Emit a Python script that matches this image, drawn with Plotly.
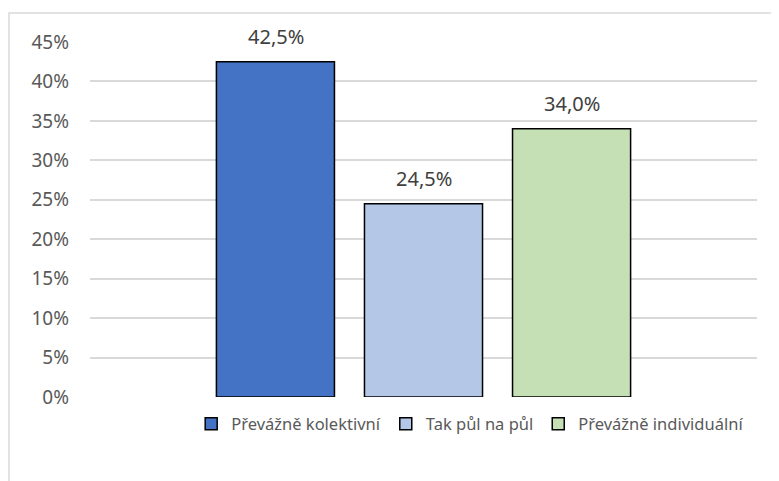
import plotly.graph_objects as go

categories = ["Q"]
series_names = ["Převážně kolektivní", "Tak půl na půl", "Převážně individuální"]
series_values = [42.5, 24.5, 34.0]
colors = ["#4472C4", "#B4C7E7", "#C5E0B4"]
tick_vals = [0, 5, 10, 15, 20, 25, 30, 35, 40, 45]
tick_labels = ["0%", "5%", "10%", "15%", "20%", "25%", "30%", "35%", "40%", "45%"]
value_labels = ["42,5%", "24,5%", "34,0%"]

fig = go.Figure()
for name, val, col in zip(series_names, series_values, colors):
    fig.add_trace(go.Bar(
        x=categories, y=[val], name=name,
        marker=dict(color=col, line=dict(color="#000000", width=1.5)),
    ))

slot_px = 148
annotations = []
for i, (val, lab) in enumerate(zip(series_values, value_labels)):
    annotations.append(dict(
        x=0, y=val, xref="x", yref="y", text=lab, showarrow=False,
        xshift=(i - 1) * slot_px, yshift=25, yanchor="middle",
        font=dict(size=20, color="#404040", family="Noto Sans"),
    ))

fig.update_layout(
    width=771, height=473,
    margin=dict(l=82, r=22, t=34, b=84, autoexpand=False),
    paper_bgcolor="white", plot_bgcolor="white",
    barmode="group", bargap=0.334, bargroupgap=0.2027,
    font=dict(family="Noto Sans", size=16, color="#595959"),
    showlegend=True,
    legend=dict(orientation="h", x=0.57, xanchor="center", y=-0.076, yanchor="middle",
                font=dict(size=16.5, color="#595959"), traceorder="normal",
                itemwidth=30, tracegroupgap=0),
    xaxis=dict(showticklabels=False, showgrid=False, zeroline=False, showline=False),
    yaxis=dict(range=[0, 45], tickvals=tick_vals, ticktext=tick_labels, showgrid=True,
               gridcolor="#d9d9d9", gridwidth=1.5, zeroline=False, showline=False,
               tickfont=dict(size=19, color="#595959"), ticks="", ticklabelstandoff=20),
    annotations=annotations,
    shapes=[dict(type="rect", xref="paper", yref="paper",
                 x0=-0.1214, x1=1.2, y0=-0.6, y1=1.0817,
                 line=dict(color="#d9d9d9", width=1.5), fillcolor="rgba(0,0,0,0)", layer="above")],
)

fig.write_html("out.html")
